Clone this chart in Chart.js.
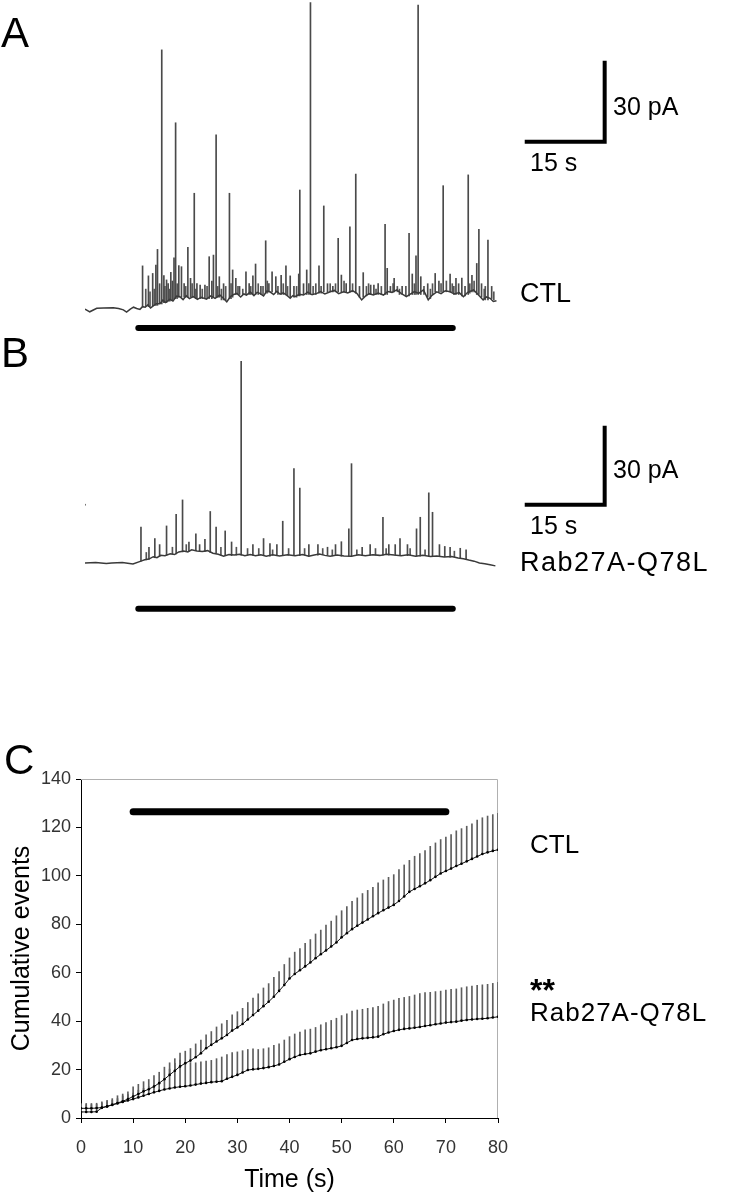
<!DOCTYPE html>
<html>
<head>
<meta charset="utf-8">
<script src="https://cdn.jsdelivr.net/npm/chart.js@4.4.0/dist/chart.umd.min.js"></script>
<style>
  body { margin: 0; background: #fff; width: 731px; height: 1199px; position: relative; overflow: hidden;
         font-family: "Liberation Sans", Arial, sans-serif; }
  canvas { position: absolute; left: 0; }
  .lbl { position: absolute; line-height: 1; color: #000; white-space: nowrap; }
</style>
</head>
<body>
<canvas id="traceA" width="731" height="340" style="top:0px"></canvas>
<canvas id="traceB" width="731" height="300" style="top:340px"></canvas>
<canvas id="cumChart" width="731" height="459" style="top:740px"></canvas>

<div class="lbl" style="left:1px;top:12px;font-size:42px">A</div>
<div class="lbl" style="left:613px;top:94px;font-size:25px">30 pA</div>
<div class="lbl" style="left:530px;top:150px;font-size:25px">15 s</div>
<div class="lbl" style="left:520px;top:280px;font-size:27px">CTL</div>

<div class="lbl" style="left:1px;top:332px;font-size:42px">B</div>
<div class="lbl" style="left:613px;top:457px;font-size:25px">30 pA</div>
<div class="lbl" style="left:530px;top:513px;font-size:25px">15 s</div>
<div class="lbl" style="left:520px;top:549px;font-size:27px;letter-spacing:1.5px">Rab27A-Q78L</div>

<div class="lbl" style="left:4px;top:739px;font-size:42px">C</div>
<div class="lbl" style="left:530px;top:831px;font-size:26px">CTL</div>
<div class="lbl" style="left:530px;top:974px;font-size:32px;font-weight:bold">**</div>
<div class="lbl" style="left:530px;top:999px;font-size:26px;letter-spacing:1px">Rab27A-Q78L</div>

<script>
Chart.defaults.font.family = "'Liberation Sans', Arial, sans-serif";
Chart.defaults.animation = false;

// ---- amperometric traces (time in s, current in pA) ----
const baseTimesA = [0, 0.9, 2.2, 3.5, 5.3, 6.3, 7.2, 7.8, 8.5, 9.1, 9.7, 10.3, 10.8, 11.3, 11.8, 12.3, 12.8, 13.4,
  14.1, 14.6, 15.1, 15.9, 16.5, 17.2, 17.8, 18.4, 19.0, 19.6, 20.3, 21.1, 21.8, 22.8, 23.6, 24.4, 25.3, 26.0, 26.6,
  27.3, 27.9, 28.5, 29.2, 29.8, 30.3, 31.0, 31.7, 32.3, 32.8, 33.5, 34.1, 34.7, 35.4, 36.0, 36.6, 37.2, 37.8, 38.5,
  39.0, 39.4, 40.2, 41.0, 41.8, 42.6, 43.5, 44.2, 45.0, 46.0, 46.8, 47.6, 48.5, 49.3, 50.2, 51.0, 51.9, 52.6, 53.3,
  54.1, 55.0, 56.0, 56.8, 57.6, 58.5, 59.3, 60.3, 61.1, 61.8, 62.6, 63.5, 64.4, 65.1, 66.0, 66.8, 67.6, 68.5, 69.3,
  70.2, 71.0, 71.8, 72.9, 73.7, 74.7, 75.3, 76.0, 76.6, 77.2];
const baseValuesA = [-0.4, -1.4, -0.1, 0, 0.1, -0.2, -0.7, -1.5, -0.4, 0.3, -0.2, -0.5, 0.5, 0.3, 1.2, 0, 0.8, 1.6,
  1.7, 2.9, 2, 3.2, 2.6, 4.4, 4.2, 3.1, 4.5, 3.5, 4.2, 3.2, 4, 3.3, 4.5, 3.6, 4.8, 3.5, 2.3,
  4.2, 5, 5.4, 4.1, 5.2, 4.8, 5.9, 4.6, 5.8, 5.4, 4.5, 6.3, 6, 5, 6.2, 5.1, 5.6, 4.8, 3.6,
  4.6, 4.2, 5.1, 4.8, 5.9, 4.9, 5.4, 6.1, 5.2, 6, 6.5, 5.3, 6, 5.6, 6.4, 5.4, 3, 4.4, 5.3,
  4.8, 5.5, 4.8, 6.1, 5.8, 6.7, 5.4, 4.2, 5.2, 6.1, 5.4, 6.7, 3, 4.7, 6, 5.3, 6.4, 6, 5.2,
  5.7, 4.2, 5.8, 6.7, 5.1, 3, 4.1, 3.6, 2.4, 2.7];

const spikeTimesA = [10.8, 11.9, 12.7, 13.3, 13.6, 14.0, 14.4, 14.8, 15.3, 15.6, 16.1, 16.4, 16.7, 17.0, 17.6, 18.1,
  18.6, 19.3, 19.8, 20.5, 21.0, 21.6, 22.5, 23.3, 23.8, 24.1, 24.6, 25.2, 26.0, 27.1, 27.7, 28.3, 29.0, 30.2, 30.8,
  31.5, 32.0, 33.0, 33.9, 34.5, 35.1, 35.8, 36.8, 37.7, 38.5, 39.2, 40.1, 40.3, 41.0, 41.6, 42.3, 43.9, 44.8, 45.5,
  46.5, 47.5, 48.1, 49.0, 49.7, 50.8, 51.5, 52.2, 53.6, 54.2, 55.0, 56.3, 56.7, 57.3, 58.0, 59.5, 60.8, 61.4, 62.1,
  62.5, 63.0, 64.3, 65.7, 66.4, 67.2, 68.5, 69.6, 70.1, 70.7, 71.3, 71.9, 72.6, 73.5, 73.9, 74.4, 75.6, 76.3];
const spikePeaksA = [15.6, 11.9, 12.8, 15.9, 21.7, 9, 95.6, 12, 10.4, 9, 13.2, 10, 18.6, 68.6, 15.7, 15.3,
  9, 22.5, 11, 42.5, 9, 8.5, 8.5, 19, 10, 19.6, 64.1, 11.6, 9, 42.5, 14.1, 11, 8, 13.4, 9,
  11.9, 16.3, 8, 24.9, 9, 13.4, 11.6, 12.1, 15.6, 11.9, 8, 12.6, 43.7, 9, 14.1, 113.1, 15.6, 37.8, 9,
  8, 25.8, 12.2, 9, 30.1, 49.6, 8, 13.1, 8.5, 8.5, 9, 31, 14.7, 8, 11, 8, 27.7, 12.6, 19.3,
  112.2, 11.6, 9, 12.8, 10, 45.3, 12.6, 11, 9, 11.1, 8, 49.3, 12.1, 16.5, 29.1, 9, 25.2, 8];
const spikeBasesA = [0.5, 0.5, 0.8, 1, 1, 1.5, 1.5, 2, 2, 2.5, 3, 3, 3.5, 3.5, 4, 4,
  4, 4, 4, 4, 3.5, 3.5, 3.5, 3.5, 3.5, 4, 4, 4, 3, 3.5, 4, 5, 5, 5, 5,
  5, 5, 5, 5.5, 6, 6, 6, 5, 5, 4, 4, 4.5, 4.5, 5, 5, 5, 5.5, 6, 6,
  6, 6, 6, 6, 6, 5.5, 4, 4, 5, 5, 5, 5, 5, 6, 6, 5, 4.5, 5, 5,
  5, 5, 4, 6, 6, 6, 6, 5, 5, 4.5, 4.5, 5, 6, 5, 5, 4, 3, 3.5];

// the many small events that make the fuzzy band above the baseline
const smallTimesA = [11.4, 12.2, 13.0, 15.0, 15.9, 17.3, 18.9, 20.1, 20.8, 22.0, 22.9, 24.9, 25.6, 26.4, 27.4, 28.7,
  29.6, 31.1, 32.5, 33.4, 34.2, 36.2, 37.2, 38.0, 39.7, 42.0, 42.8, 43.3, 44.3, 46.0, 47.0, 48.6, 50.2, 52.8, 53.2,
  54.6, 55.6, 57.8, 58.6, 59.0, 60.2, 61.8, 63.6, 64.8, 65.2, 66.8, 67.8, 68.9, 69.2, 72.2, 73.0, 74.9, 75.1, 76.7];
const smallPeaksA = [7, 6, 7, 8, 7, 9, 8, 9, 7, 7, 8, 8, 7, 8, 9, 8,
  7, 8, 9, 8, 10, 8, 9, 8, 8, 9, 8, 9, 8, 9, 9, 10, 9, 8, 9,
  7, 8, 9, 8, 7, 8, 9, 8, 7, 9, 9, 10, 9, 8, 9, 10, 7, 8, 6];
const smallBasesA = [0.5, 0.6, 1, 2, 2.5, 3.5, 4, 4, 3.5, 3.5, 3.5, 4, 3, 3, 3.5, 5,
  5, 5, 5, 5, 5.5, 5, 5, 4.5, 4, 5, 5, 5, 5.5, 6, 6, 6, 6, 4.5, 5,
  5, 5, 6, 6, 5, 4.5, 5, 5, 3.5, 5, 6, 6, 6, 5, 5.5, 6, 3.5, 3, 3];

const baseTimesB = [0, 2, 4, 5, 7, 9, 10.5, 11.2, 12, 12.8, 13.5, 14.2, 15, 16, 16.8, 17.6, 18.5, 19.3, 20, 21, 22,
  23, 24, 25, 26, 27, 28, 29, 30, 31, 32, 33, 34, 35.2, 36.5, 38, 39.4, 40.8, 42, 43, 44, 45, 46, 47.3, 48.6, 50,
  51.3, 52.6, 54, 55.3, 56.6, 58, 59.3, 60.6, 62, 63.4, 64.8, 66, 67.4, 68.8, 70, 71, 72, 73, 74, 75, 76, 77];
const baseValuesB = [0, 0.2, -0.2, 0, 0.2, -0.4, 0.7, 1.2, 1.5, 2.4, 2, 2.9, 2.8, 3.5, 3.2, 4.2, 4.6, 4.2, 5, 4.6, 4.4,
  4.7, 3.7, 3.3, 2.6, 3.2, 3, 3.3, 2.8, 3.2, 2.8, 3.1, 2.6, 3.1, 2.7, 3.1, 2.8, 3.2, 2.6, 3, 3.4, 2.9, 2.6, 3, 2.7, 2.6,
  3.1, 2.8, 3.1, 2.9, 3.3, 3, 2.8, 3.1, 2.6, 2.9, 2.5, 2.7, 2.3, 2.5, 1.9, 1.6, 1.1, 0.7, 0, -0.3, -0.7, -1.1];

const spikeTimesB = [10.5, 12.0, 13.1, 14.0, 15.3, 17.1, 18.3, 19.5, 20.8, 21.5, 22.5, 23.5, 24.6, 26.3, 27.5, 29.3,
  31.5, 33.5, 34.7, 36.0, 37.1, 39.2, 40.3, 42.0, 43.7, 45.5, 47.0, 48.1, 49.5, 50.0, 52.0, 53.5, 55.9, 57.0, 58.2,
  59.1, 60.5, 62.2, 62.9, 64.5, 65.2, 66.5, 67.5, 68.5, 70.4, 71.5];
const spikePeaksB = [13.7, 6, 9.3, 7, 14.1, 18.5, 24, 8, 11.1, 7, 9, 19.6, 13.7, 12.2, 8, 76.7,
  7, 9.3, 7.4, 7, 15.9, 35.9, 28.5, 7, 7, 6, 7, 8.1, 13, 37.8, 6, 7, 17.4, 7, 7,
  9.3, 7, 13, 17.4, 26.7, 19.3, 7, 6.3, 6, 5.6, 5];
const spikeBasesB = [0.7, 1.5, 2, 2.5, 3, 3.5, 4.2, 4.5, 4.8, 4.6, 4.4, 4, 3.7, 2.8, 2.8, 3,
  3, 2.8, 2.6, 2.8, 3, 3, 2.8, 2.6, 3, 3, 2.8, 2.6, 2.6, 2.6, 2.8, 3, 3, 3, 3,
  3, 2.8, 2.6, 2.6, 2.6, 2.6, 2.6, 2.4, 2.2, 1.9, 1.5];
const smallTimesB = [11.5, 16.4, 19.0, 25.5, 28.4, 30.5, 32.6, 35.2, 38.2, 41.2, 44.6, 46.4, 51.0, 54.5, 56.5, 61.0,
  63.8, 69.3];
const smallPeaksB = [4, 6, 7, 6, 6, 5.5, 5.5, 5, 5.5, 5.5, 5.5, 5, 5, 5.5, 5.5, 5.5, 5, 4.5];
const smallBasesB = [1.2, 3.3, 4.3, 3, 3, 3, 2.9, 3, 3, 3, 3.2, 2.7, 3, 3, 3.2, 3, 2.8, 2.3];
const artefactB = [{x: 0, y: 22.2}];

const stimSeconds = [10, 69];        // stimulation bar under the traces
const scaleBarSeconds = 15;
const scaleBarPA = 30;

// ---- cumulative events (panel C) ----
const times = [0, 1, 2, 3, 4, 5, 6, 7, 8, 9, 10, 11, 12, 13, 14, 15, 16, 17, 18, 19, 20, 21, 22, 23, 24, 25, 26, 27,
  28, 29, 30, 31, 32, 33, 34, 35, 36, 37, 38, 39, 40, 41, 42, 43, 44, 45, 46, 47, 48, 49, 50, 51, 52, 53, 54, 55, 56,
  57, 58, 59, 60, 61, 62, 63, 64, 65, 66, 67, 68, 69, 70, 71, 72, 73, 74, 75, 76, 77, 78, 79, 80];
const ctlMean = [2.5, 2.5, 2.5, 2.6, 4.2, 4.8, 5.5, 6.2, 6.9, 7.8, 8.9, 9.9, 11, 11.9, 13, 14.4, 16, 17.8, 19.5, 21.3,
  22.6, 23.7, 25.1, 26.7, 28.8, 30.2, 31.6, 32.9, 34.3, 36.1, 37.4, 38.8, 40.7, 42.5, 44.3, 46.2, 48, 50.1, 52.5, 54.9,
  57.6, 59.5, 61, 62.6, 64.2, 66, 67.6, 69.2, 70.8, 72.5, 74.6, 76.3, 78, 79.4, 80.7, 82, 83.3, 84.6, 85.8, 86.9,
  88, 89.6, 91.5, 93.4, 94.6, 95.7, 96.9, 98.2, 99.6, 101, 102, 103, 104.1, 105, 106, 107, 108, 109, 109.7, 110.3, 110.8];
const ctlSem = [3, 3, 3, 3, 2.5, 2.5, 2.5, 3, 3, 3, 4, 4, 4, 4, 4.5, 4.5, 5, 5, 5, 5.5,
  5, 5, 5.5, 5.5, 5.5, 5.5, 6, 6, 6, 6.5, 6.5, 6.5, 7, 7, 7, 7.5, 7.5, 8, 8, 8.5,
  8.5, 9, 9, 9.5, 9.5, 10, 10, 10.5, 10.5, 11, 11, 11, 11.5, 11.5, 12, 12, 12, 12.5, 12.5, 12.5,
  12.5, 13, 13, 13, 13.5, 13.5, 13.5, 14, 14, 14, 14, 14, 14.5, 14.5, 14.5, 14.5, 15, 15, 15, 15, 15];
const rabMean = [4, 4, 4, 4.1, 4.3, 4.8, 5.4, 6, 6.6, 7.2, 7.8, 8.5, 9.2, 9.9, 10.6, 11.2, 11.8, 12.2, 12.6, 12.9,
  13.1, 13.4, 13.8, 14.2, 14.5, 14.8, 15, 15.2, 16.2, 17, 17.8, 18.8, 19.8, 20.1, 20.3, 20.6, 21, 21.5, 22.1, 23.2,
  24.3, 25.2, 26, 26.4, 26.7, 27.4, 28, 28.4, 28.8, 29.2, 29.8, 31, 32.2, 32.6, 32.9, 33.1, 33.3, 33.6, 34.6, 35.3,
  35.9, 36.4, 36.8, 37, 37.3, 37.6, 38, 38.3, 38.7, 39, 39.4, 39.6, 39.8, 40.2, 40.5, 40.7, 40.9, 41, 41.2, 41.5, 41.8];
const rabSem = [2, 2, 2, 2, 2, 2, 2, 2, 2.5, 2.5, 2.5, 3, 3, 3, 3, 3.5, 4, 8, 10, 11,
  10, 9.5, 9, 9, 9, 9, 9.5, 10, 10, 10, 9.5, 9, 8.5, 8.5, 8, 8, 8, 8.5, 8.5, 9,
  9.3, 9.5, 9.5, 10, 10, 10, 10.5, 11, 11.5, 12, 12.5, 12, 12, 12, 12, 12.2, 12.3, 12.5, 12.5, 12.8,
  12.8, 13, 13, 13.2, 13.5, 13.8, 13.8, 13.6, 13.5, 13.4, 13.4, 13.5, 13.5, 13.6, 13.7, 13.8, 13.9, 14, 14, 14.1, 14.2];
const stimLevelC = 126.5;

function pts(xs, ys) {
  return xs.map((x, i) => ({x: x, y: ys[i]}));
}

function spikeSet(st, sp, sb, colour) {
  return {type: 'bar', data: st.map((x, i) => ({x: x, y: [sb[i], sp[i]]})), backgroundColor: colour,
    barThickness: 1, grouped: false, order: 3};
}

function makeTrace(id, tr, yMin, yMax, stimY, corner, extra) {
  const datasets = [
    spikeSet(tr.st, tr.sp, tr.sb, '#4a4a4a'),
    spikeSet(tr.smt, tr.smp, tr.smb, '#555'),
    {type: 'line', data: pts(tr.t, tr.v), borderColor: '#3a3a3a', borderWidth: 1.5, pointRadius: 0, order: 2},
    {type: 'line', data: [{x: stimSeconds[0], y: stimY}, {x: stimSeconds[1], y: stimY}], borderColor: '#000',
      borderWidth: 6, borderCapStyle: 'round', pointRadius: 0, order: 1},
    {type: 'line', data: [{x: corner[0] - scaleBarSeconds, y: corner[1]}, {x: corner[0], y: corner[1]},
      {x: corner[0], y: corner[1] + scaleBarPA}], borderColor: '#000', borderWidth: 4,
      borderJoinStyle: 'miter', pointRadius: 0, order: 1}
  ];
  if (extra) {
    datasets.push({type: 'scatter', data: extra, pointRadius: 1, backgroundColor: '#666', borderWidth: 0});
  }
  return new Chart(document.getElementById(id), {
    type: 'bar',
    data: {datasets: datasets},
    options: {
      responsive: false,
      devicePixelRatio: 1,
      layout: {padding: {left: 85, right: 113, top: 0, bottom: 0}},
      plugins: {legend: {display: false}, tooltip: {enabled: false}},
      scales: {
        x: {type: 'linear', min: 0, max: 100, display: false, offset: false},
        y: {min: yMin, max: yMax, display: false}
      }
    }
  });
}

makeTrace('traceA', {t: baseTimesA, v: baseValuesA, st: spikeTimesA, sp: spikePeaksA, sb: spikeBasesA,
  smt: smallTimesA, smp: smallPeaksA, smb: smallBasesA}, -11.85, 114.07, -7.4, [97.5, 61.6]);
makeTrace('traceB', {t: baseTimesB, v: baseValuesB, st: spikeTimesB, sp: spikePeaksB, sb: spikeBasesB,
  smt: smallTimesB, smp: smallPeaksB, smb: smallBasesB}, -27.78, 83.33, -17.4, [97.5, 22.2], artefactB);

// light frame on top and right of the plot area
const frame = {
  id: 'frame',
  beforeDatasetsDraw(chart) {
    const a = chart.chartArea;
    const c = chart.ctx;
    c.save();
    c.strokeStyle = '#b0b0b0';
    c.lineWidth = 1;
    c.beginPath();
    c.moveTo(a.left, a.top + 0.5);
    c.lineTo(a.right - 0.5, a.top + 0.5);
    c.lineTo(a.right - 0.5, a.bottom);
    c.stroke();
    c.restore();
  }
};

const tickFont = {family: "'Liberation Sans Narrow', 'Liberation Sans', sans-serif", size: 18};

new Chart(document.getElementById('cumChart'), {
  type: 'bar',
  data: {
    datasets: [
      {type: 'bar', data: times.map((x, i) => ({x: x, y: [ctlMean[i], ctlMean[i] + ctlSem[i]]})),
        backgroundColor: '#5e5e5e', barThickness: 1, grouped: false, order: 3},
      {type: 'bar', data: times.map((x, i) => ({x: x, y: [rabMean[i], rabMean[i] + rabSem[i]]})),
        backgroundColor: '#5e5e5e', barThickness: 1, grouped: false, order: 3},
      {type: 'line', label: 'CTL', data: pts(times, ctlMean), borderColor: '#111', borderWidth: 1,
        pointRadius: 1.3, pointBackgroundColor: '#000', pointBorderWidth: 0, order: 1},
      {type: 'line', label: 'Rab27A-Q78L', data: pts(times, rabMean), borderColor: '#111', borderWidth: 1,
        pointRadius: 1.3, pointBackgroundColor: '#000', pointBorderWidth: 0, order: 1},
      {type: 'line', data: [{x: stimSeconds[0], y: stimLevelC}, {x: 70, y: stimLevelC}], borderColor: '#000',
        borderWidth: 7, borderCapStyle: 'round', pointRadius: 0, order: 1}
    ]
  },
  options: {
    responsive: false,
    devicePixelRatio: 1,
    layout: {padding: {left: 0, right: 233, top: 39, bottom: 0}},
    plugins: {legend: {display: false}, tooltip: {enabled: false}},
    scales: {
      x: {
        type: 'linear', min: 0, max: 80, offset: false,
        afterFit: s => { s.height = 81; },
        border: {color: '#000', width: 1},
        grid: {display: true, drawOnChartArea: false, drawTicks: true, tickLength: 5, color: '#000', offset: false},
        ticks: {stepSize: 10, color: '#333', font: tickFont, padding: 14, maxRotation: 0},
        title: {display: true, text: 'Time (s)', color: '#000', font: {size: 25}, padding: {top: 0, bottom: 4}}
      },
      y: {
        min: 0, max: 140,
        afterFit: s => { s.width = 81; },
        border: {color: '#000', width: 1},
        grid: {display: true, drawOnChartArea: false, drawTicks: true, tickLength: 5, color: '#000'},
        ticks: {stepSize: 20, color: '#333', font: tickFont, padding: 5},
        title: {display: true, text: 'Cumulative events', color: '#000', font: {size: 25}, padding: {top: 7, bottom: 0}}
      }
    }
  },
  plugins: [frame]
});
</script>
</body>
</html>
